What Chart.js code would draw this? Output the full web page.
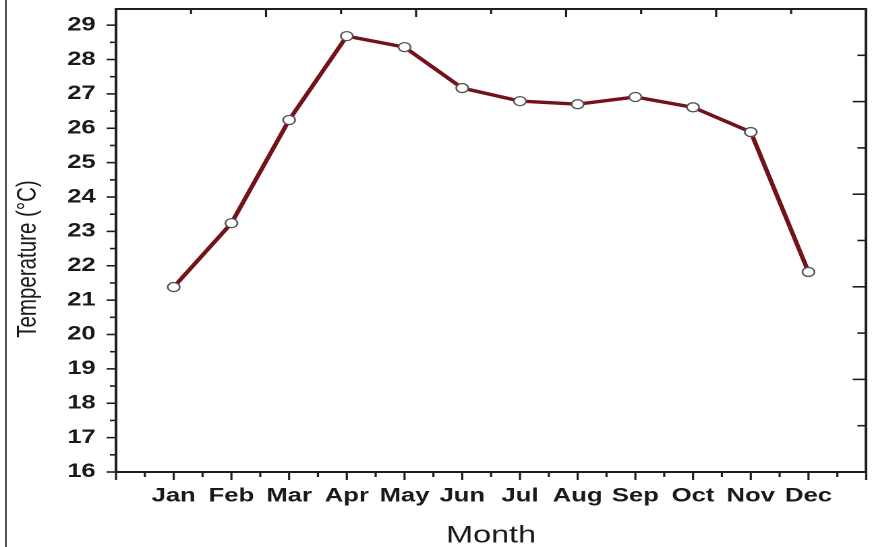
<!DOCTYPE html>
<html>
<head>
<meta charset="utf-8">
<script src="https://cdn.jsdelivr.net/npm/chart.js@4.4.1/dist/chart.umd.min.js"></script>
<style>
  html, body { margin: 0; padding: 0; background: #fff; overflow: hidden; }
  #stage { position: relative; width: 874px; height: 547px; overflow: hidden; background: #fff; }
  #wrap { position: absolute; left: 0; top: 0; width: 648px; height: 547px; transform: scaleX(1.34877); transform-origin: 0 0; }
  #edge { position: absolute; left: 5px; top: 0; width: 2px; height: 547px; background: #555; }
</style>
</head>
<body>
<div id="stage">
  <div id="wrap"><canvas id="c" width="648" height="547"></canvas></div>
  <div id="edge"></div>
</div>
<script>
// ---- data ----
const months = ['Jan', 'Feb', 'Mar', 'Apr', 'May', 'Jun', 'Jul', 'Aug', 'Sep', 'Oct', 'Nov', 'Dec'];
const temps  = [21.38, 23.24, 26.24, 28.68, 28.36, 27.17, 26.79, 26.70, 26.91, 26.61, 25.89, 21.82];
const yTickLabels = [16, 17, 18, 19, 20, 21, 22, 23, 24, 25, 26, 27, 28, 29];
const xTitle = 'Month';
const yTitle = 'Temperature (°C)';

const points = months.map((m, i) => ({ x: i + 1, y: temps[i] }));

const tickFont = { family: "'Liberation Sans', Arial, sans-serif", size: 19, weight: 'bold' };
const axisColor = '#1e1e1e';

const tickPlugin = {
  id: 'tickMarks',
  afterDraw(chart) {
    const ctx = chart.ctx;
    const { x, y, x2, y2 } = chart.scales;
    const area = chart.chartArea;
    ctx.save();
    ctx.strokeStyle = axisColor;
    ctx.lineWidth = 1.6;
    for (let v = x.min; v <= x.max + 1e-9; v += 0.5) {
      const px = x.getPixelForValue(v);
      const major = Math.abs(v - Math.round(v)) < 1e-9;
      ctx.beginPath();
      ctx.moveTo(px, area.bottom);
      ctx.lineTo(px, area.bottom + (major ? 8 : 5));
      ctx.stroke();
    }
    for (let v = y.min; v <= yTickLabels[yTickLabels.length - 1] + 1e-9; v += 0.5) {
      const py = y.getPixelForValue(v);
      const major = Math.abs(v - Math.round(v)) < 1e-9;
      ctx.beginPath();
      ctx.moveTo(area.left, py);
      ctx.lineTo(area.left - (major ? 7 : 4.5), py);
      ctx.stroke();
    }
    for (let v = x2.min + 1; v < x2.max; v += 1) {
      const px = x2.getPixelForValue(v);
      ctx.beginPath();
      ctx.moveTo(px, area.top);
      ctx.lineTo(px, area.top + (v % 2 === 0 ? 8 : 5));
      ctx.stroke();
    }
    for (let v = y2.min + 1; v < y2.max; v += 1) {
      const py = y2.getPixelForValue(v);
      ctx.beginPath();
      ctx.moveTo(area.right, py);
      ctx.lineTo(area.right - (v % 2 === 0 ? 10 : 6.5), py);
      ctx.stroke();
    }
    ctx.restore();
  }
};

// the rotated y-axis title sits a little below the axis centre in the reference
const yTitlePlugin = {
  id: 'yTitle',
  afterDraw(chart) {
    const ctx = chart.ctx;
    const area = chart.chartArea;
    ctx.save();
    ctx.fillStyle = '#1a1a1a';
    ctx.font = "20.5px 'Liberation Sans', Arial, sans-serif";
    ctx.textAlign = 'center';
    ctx.textBaseline = 'middle';
    ctx.translate(21, (area.top + area.bottom) / 2 + 18.5);
    ctx.rotate(-Math.PI / 2);
    ctx.fillText(yTitle, 0, 0);
    ctx.restore();
  }
};

new Chart(document.getElementById('c'), {
  type: 'line',
  data: {
    datasets: [{
      data: points,
      borderColor: '#74121a',
      borderWidth: 3.4,
      pointRadius: 4.5,
      pointBorderWidth: 1.3,
      pointBorderColor: '#555555',
      pointBackgroundColor: '#ffffff',
      tension: 0,
      clip: false
    }]
  },
  options: {
    responsive: false,
    animation: false,
    devicePixelRatio: 2,
    layout: { padding: { top: 9, right: 3, left: 0, bottom: 0 } },
    plugins: { legend: { display: false }, tooltip: { enabled: false } },
    scales: {
      x: {
        type: 'linear', position: 'bottom', min: 0, max: 13,
        grid: { display: false, drawTicks: false },
        border: { display: true, color: axisColor, width: 2 },
        ticks: {
          stepSize: 1, autoSkip: false, maxRotation: 0, padding: 13,
          color: '#1a1a1a', font: tickFont,
          callback: (v) => (v >= 1 && v <= months.length && Number.isInteger(v)) ? months[v - 1] : ''
        },
        title: {
          display: true, text: xTitle, color: '#1a1a1a',
          font: { family: "'Liberation Sans', Arial, sans-serif", size: 24, lineHeight: 1 },
          padding: { top: 0, bottom: -1 }
        },
        afterFit(s) { s.height = 75; s.paddingLeft = 0; s.paddingRight = 0; }
      },
      y: {
        type: 'linear', position: 'left', min: 16, max: 29.47,
        grid: { display: false, drawTicks: false },
        border: { display: true, color: axisColor, width: 2 },
        ticks: {
          stepSize: 1, includeBounds: false, autoSkip: false, padding: 15,
          color: '#1a1a1a', font: tickFont,
          callback: (v) => yTickLabels.includes(v) ? String(v) : ''
        },
        title: { display: false },
        afterFit(s) { s.width = 86; s.paddingTop = 0; s.paddingBottom = 0; }
      },
      x2: {
        type: 'linear', position: 'top', min: 0, max: 10,
        grid: { display: false, drawTicks: false },
        border: { display: true, color: axisColor, width: 2 },
        ticks: { display: false },
        afterFit(s) { s.height = 0; s.paddingLeft = 0; s.paddingRight = 0; }
      },
      y2: {
        type: 'linear', position: 'right', min: 0, max: 10,
        grid: { display: false, drawTicks: false },
        border: { display: true, color: axisColor, width: 2 },
        ticks: { display: false },
        afterFit(s) { s.width = 0; s.paddingTop = 0; s.paddingBottom = 0; }
      }
    }
  },
  plugins: [tickPlugin, yTitlePlugin]
});
</script>
</body>
</html>
